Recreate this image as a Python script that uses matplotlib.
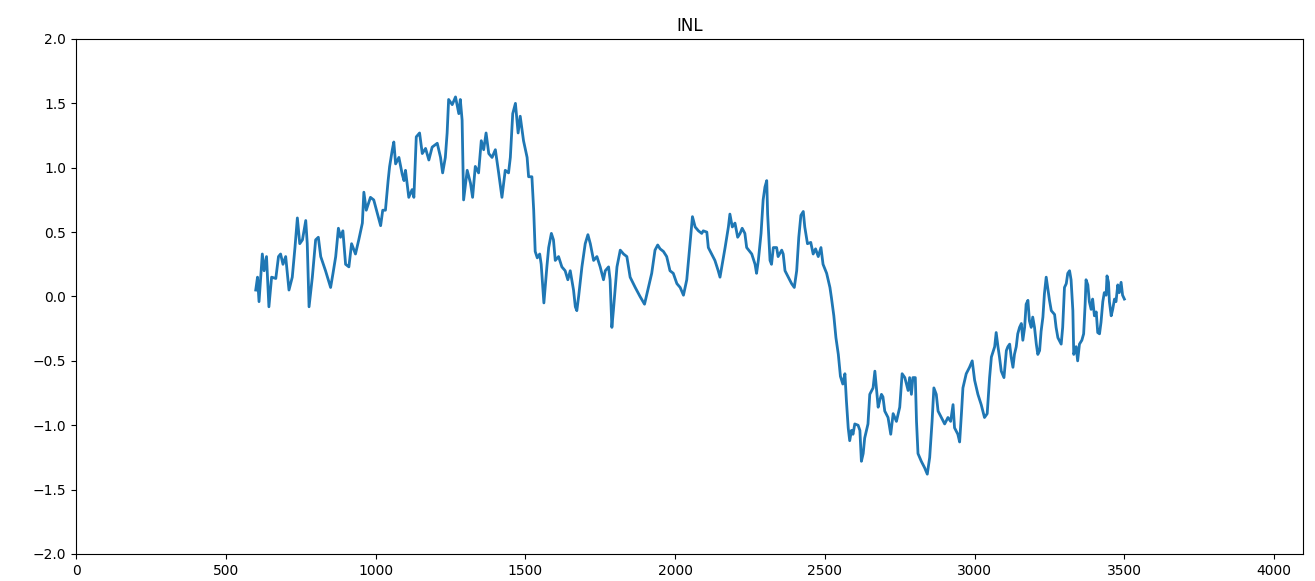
import matplotlib
matplotlib.use('Agg')
import matplotlib.pyplot as plt

# INL curve, values (code, LSB)
code = [600, 606, 611, 622, 628, 636, 644, 653, 667, 676, 683, 691, 700, 711, 722, 731, 739, 747, 756, 767,
        772, 778, 789, 800, 809, 817, 833, 850, 858, 867, 876, 883, 891, 900, 911, 920, 933, 944, 956, 961,
        969, 983, 994, 1009, 1017, 1024, 1033, 1042, 1047, 1056, 1061, 1067, 1078, 1089, 1095, 1100, 1111, 1122, 1128,
        1136, 1147, 1156, 1167, 1178, 1189, 1206, 1217, 1224, 1233, 1239, 1244, 1256, 1267, 1278, 1283, 1289, 1294,
        1306, 1317, 1324, 1333, 1344, 1353, 1361, 1369, 1378, 1389, 1400, 1411, 1422, 1433, 1444, 1450, 1458, 1467,
        1476, 1483, 1494, 1506, 1511, 1522, 1528, 1533, 1540, 1548, 1553, 1562,
        1572, 1578, 1587, 1594, 1600, 1611, 1622, 1633, 1642, 1650, 1661, 1667, 1672, 1678, 1689, 1700, 1709, 1717,
        1728, 1739, 1750, 1761, 1767, 1778, 1783, 1789, 1794, 1806, 1817, 1828, 1839, 1850, 1867, 1883, 1898, 1906,
        1922, 1933, 1942, 1950, 1961, 1972, 1983, 1994, 2006, 2017, 2028, 2039, 2050, 2058, 2067, 2078, 2089, 2094,
        2106, 2111, 2122, 2133, 2144, 2150, 2156, 2167, 2178, 2183, 2191, 2200, 2209, 2217, 2224, 2233, 2239, 2256,
        2267, 2272, 2278, 2287, 2294, 2300, 2306, 2309, 2317, 2322, 2328, 2339, 2344, 2356, 2361, 2367, 2378, 2389,
        2398, 2406, 2413, 2420, 2428, 2433, 2442, 2453, 2461, 2469, 2478, 2487, 2494, 2506, 2511, 2517, 2522,
        2530, 2537, 2545, 2552, 2560, 2567, 2572, 2578, 2583, 2589, 2594, 2600, 2611, 2617, 2622, 2628, 2633, 2644,
        2650, 2661, 2667, 2672, 2678, 2683, 2689, 2694, 2700, 2711, 2720, 2728, 2739, 2750, 2758, 2767, 2778, 2783,
        2789, 2794, 2802, 2806, 2811, 2822, 2833, 2842, 2850, 2858, 2864, 2872, 2878, 2889, 2900, 2911, 2920, 2928,
        2933, 2944, 2950, 2956, 2961, 2972, 2983, 2992, 3000, 3011, 3022, 3033, 3042, 3050, 3056, 3067, 3072, 3078,
        3083, 3089, 3098, 3106, 3111, 3117, 3122, 3128, 3133, 3139, 3144, 3150, 3156, 3161, 3167, 3172, 3178, 3183,
        3189, 3194, 3200, 3206, 3211, 3217, 3222, 3228, 3233, 3239, 3244, 3250, 3256, 3267, 3272, 3278, 3289, 3294,
        3300, 3306, 3311, 3317, 3322, 3328, 3331, 3339, 3344, 3350, 3358, 3364, 3369, 3372, 3378, 3383, 3389, 3394,
        3400, 3406, 3411, 3417, 3422, 3428, 3433, 3439, 3442, 3447, 3450, 3456, 3461, 3467, 3472, 3478, 3483, 3489,
        3494, 3500]

inl = [0.05, 0.15, -0.04, 0.33, 0.20, 0.31, -0.08, 0.15, 0.14, 0.31, 0.33, 0.25, 0.31, 0.05, 0.15, 0.38, 0.61, 0.41, 0.44, 0.59,
       0.41, -0.08, 0.15, 0.44, 0.46, 0.31, 0.20, 0.07, 0.18, 0.31, 0.53, 0.46, 0.51, 0.25, 0.23, 0.41, 0.33, 0.44, 0.57, 0.81,
       0.67, 0.77, 0.75, 0.62, 0.55, 0.67, 0.67, 0.90, 1.01, 1.14, 1.20, 1.03, 1.08, 0.95, 0.90, 0.98, 0.77, 0.83, 0.77,
       1.24, 1.27, 1.11, 1.15, 1.06, 1.16, 1.19, 1.08, 0.96, 1.08, 1.27, 1.53, 1.49, 1.55, 1.42, 1.53, 1.37, 0.75,
       0.98, 0.88, 0.77, 1.01, 0.96, 1.21, 1.14, 1.27, 1.11, 1.08, 1.14, 0.96, 0.77, 0.98, 0.96, 1.08, 1.42, 1.50,
       1.27, 1.40, 1.21, 1.08, 0.93, 0.93, 0.67, 0.35, 0.30, 0.33, 0.25, -0.05,
       0.23, 0.38, 0.49, 0.44, 0.28, 0.31, 0.23, 0.20, 0.13, 0.20, 0.05, -0.08, -0.11, 0.00, 0.23, 0.41, 0.48, 0.41,
       0.28, 0.31, 0.23, 0.13, 0.20, 0.23, 0.13, -0.24, -0.11, 0.23, 0.36, 0.33, 0.31, 0.15, 0.07, 0.00, -0.06, 0.02,
       0.18, 0.36, 0.40, 0.37, 0.35, 0.31, 0.20, 0.18, 0.10, 0.07, 0.01, 0.13, 0.41, 0.62, 0.54, 0.51, 0.49, 0.51,
       0.50, 0.38, 0.33, 0.28, 0.20, 0.15, 0.23, 0.38, 0.54, 0.64, 0.54, 0.57, 0.46, 0.49, 0.53, 0.49, 0.38, 0.33,
       0.25, 0.18, 0.28, 0.49, 0.75, 0.85, 0.90, 0.64, 0.28, 0.25, 0.38, 0.38, 0.31, 0.36, 0.33, 0.20, 0.15, 0.10,
       0.07, 0.20, 0.46, 0.63, 0.66, 0.54, 0.41, 0.42, 0.33, 0.37, 0.31, 0.38, 0.25, 0.18, 0.13, 0.07, -0.01,
       -0.15, -0.32, -0.45, -0.62, -0.68, -0.60, -0.81, -1.02, -1.12, -1.04, -1.07, -0.99, -1.00, -1.04, -1.28, -1.22, -1.10, -0.99,
       -0.76, -0.71, -0.58, -0.71, -0.86, -0.81, -0.76, -0.78, -0.89, -0.94, -1.07, -0.91, -0.97, -0.86, -0.60, -0.63, -0.73, -0.63,
       -0.76, -0.63, -0.63, -0.97, -1.22, -1.28, -1.33, -1.38, -1.25, -0.97, -0.71, -0.76, -0.89, -0.94, -0.99, -0.94, -0.97, -0.84,
       -1.02, -1.07, -1.13, -0.91, -0.71, -0.60, -0.55, -0.50, -0.65, -0.76, -0.84, -0.94, -0.91, -0.63, -0.47, -0.39, -0.28, -0.39,
       -0.47, -0.58, -0.63, -0.42, -0.39, -0.37, -0.47, -0.55, -0.45, -0.39, -0.29, -0.24, -0.21, -0.34, -0.24, -0.06, -0.03, -0.19,
       -0.24, -0.16, -0.24, -0.37, -0.45, -0.42, -0.27, -0.16, 0.02, 0.15, 0.07, -0.03, -0.11, -0.14, -0.24, -0.32, -0.37, -0.24,
       0.07, 0.10, 0.18, 0.20, 0.13, -0.11, -0.45, -0.39, -0.50, -0.37, -0.34, -0.29, -0.06, 0.13, 0.09, -0.04, -0.10, -0.02,
       -0.15, -0.12, -0.28, -0.29, -0.20, -0.04, 0.03, 0.01, 0.16, 0.11, -0.04, -0.15, -0.10, -0.02, -0.04, 0.09, 0.03, 0.11,
       0.01, -0.02]

fig = plt.figure(figsize=(13.15, 5.81), dpi=100)
ax = fig.add_axes([0.0578, 0.0465, 0.933, 0.8864])
ax.plot(code, inl, color='#1f77b4', linewidth=2.0)
ax.set_xlim(0, 4096)
ax.set_ylim(-2, 2)
ax.set_title('INL')

fig.savefig('out.png', dpi=100)
